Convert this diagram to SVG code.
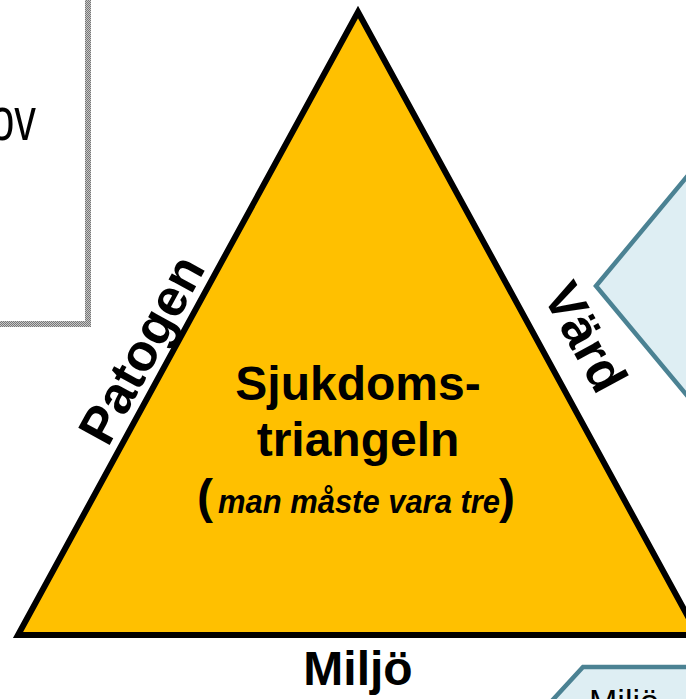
<svg xmlns="http://www.w3.org/2000/svg" width="686" height="699" viewBox="0 0 686 699">
<style>
text{font-family:"Liberation Sans",Arial,sans-serif;fill:#000}
.b{font-weight:bold}
.blue{fill:#deeef3;stroke:#4b8293;stroke-width:4.5}
</style>
<defs>
<pattern id="hatch" width="2" height="2" patternUnits="userSpaceOnUse">
<rect width="2" height="2" fill="#c8c8c8"/>
<rect width="1" height="1" fill="#777"/>
<rect x="1" y="1" width="1" height="1" fill="#777"/>
</pattern>
</defs>
<g id="box">
<rect x="-20" y="-20" width="108" height="344" fill="#fff" stroke="url(#hatch)" stroke-width="6"/>
<text x="51.4" y="140" font-size="62" text-anchor="end" transform="scale(0.7,1)">ov</text>
</g>
<g id="diamond">
<polygon class="blue" points="596,286 720,137 720,435"/>
</g>
<g id="miljo-box">
<polygon class="blue" points="583,667 720,667 720,730 525,730"/>
<text x="589" y="713" font-size="34">Miljö</text>
</g>
<g id="triangle">
<polygon points="358,12 698,635 18,635" fill="#ffc000" stroke="#000" stroke-width="6" stroke-linejoin="miter"/>
<text class="b" x="358" y="400" font-size="48" text-anchor="middle">Sjukdoms-</text>
<text class="b" x="358" y="456" font-size="48" text-anchor="middle">triangeln</text>
<text class="b" x="197" y="513" font-size="48">(</text>
<text class="b" x="218" y="513" font-size="34" font-style="italic" textLength="282" lengthAdjust="spacingAndGlyphs">man måste vara tre</text>
<text class="b" x="515" y="513" font-size="48" text-anchor="end">)</text>
</g>
<g id="labels">
<text class="b" font-size="52" transform="translate(108,448) rotate(-61.38)">Patogen</text>
<text class="b" font-size="52" transform="translate(542,295) rotate(61.38)">Värd</text>
<text class="b" x="358" y="685" font-size="48" text-anchor="middle">Miljö</text>
</g>
<g id="connectors"/>
</svg>
